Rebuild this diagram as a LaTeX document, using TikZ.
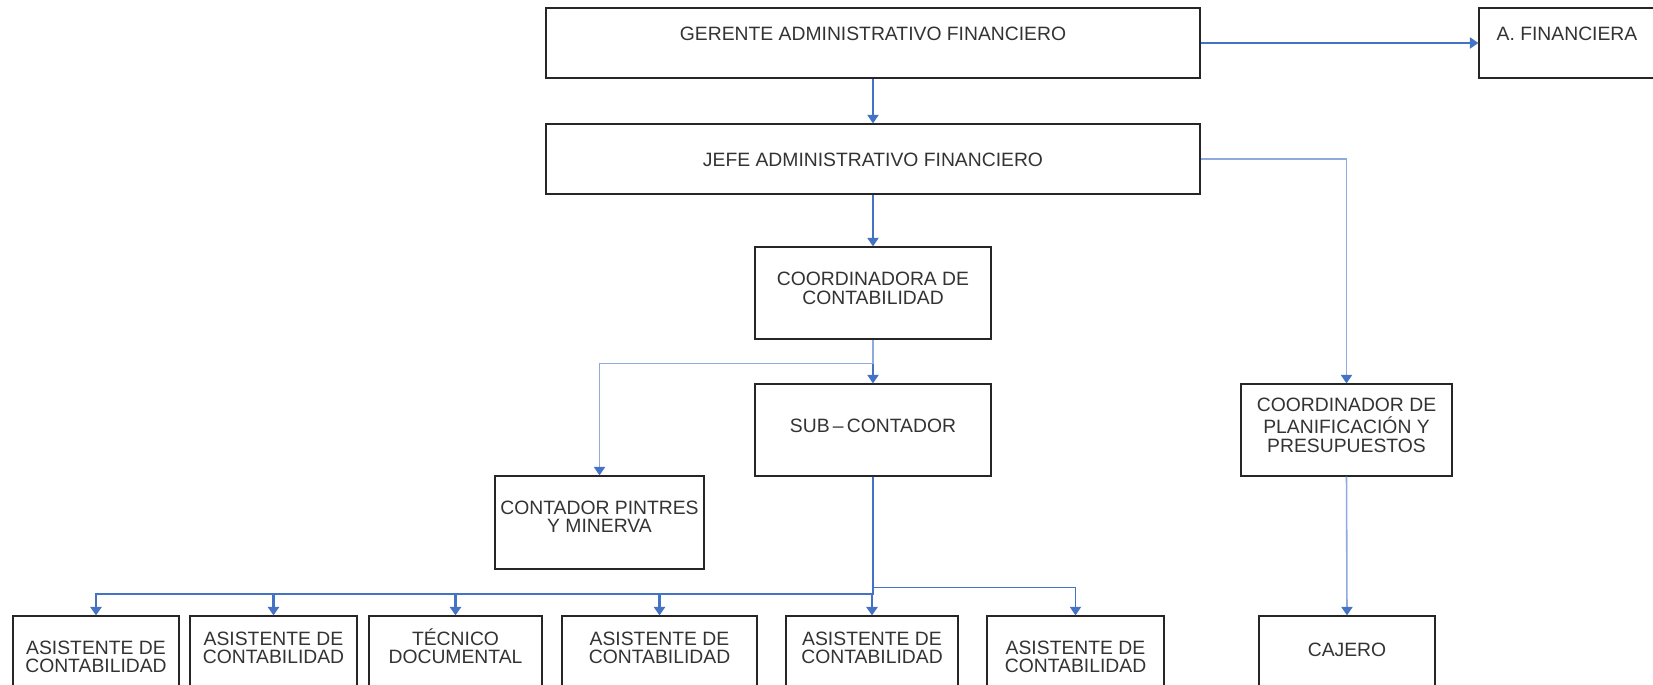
\documentclass[tikz,border=0pt]{standalone}
\usepackage{fontspec}
\setmainfont{Liberation Sans}
\usetikzlibrary{arrows.meta}
\definecolor{azul}{RGB}{68,114,196}
\definecolor{azulclaro}{RGB}{143,170,220}
\newcommand{\cargo}[1]{\begin{tabular}[t]{@{}c@{}}#1\end{tabular}}
\tikzset{
  puesto/.style={rectangle, draw=black!85, line width=0.7pt, inner sep=0pt,
                 text=black!80, font=\fontsize{11}{10.2}\selectfont},
  flecha/.style={-{Triangle[length=4.8pt,width=6.3pt]}, line width=0.9pt, draw=azul},
  flechaclara/.style={-{Triangle[length=4.8pt,width=6.3pt,color=azul]}, line width=0.9pt, draw=azulclaro},
}
\begin{document}
\begin{tikzpicture}[x=0.02cm, y=-0.02cm]
  \useasboundingbox (0,0) rectangle (1653,685);
  \clip (0,0) rectangle (1653,685);
  % direccion
  \node[puesto, minimum width=13.08cm, text height=0.66cm, text depth=0.74cm] (gerente) at (873,43) {\cargo{GERENTE ADMINISTRATIVO FINANCIERO}};
  \node[puesto, minimum width=3.52cm, text height=0.66cm, text depth=0.74cm] (afin) at (1567,43) {\cargo{A. FINANCIERA}};
  \node[puesto, minimum width=13.08cm, text height=0.86cm, text depth=0.54cm] (jefe) at (873,159) {\cargo{JEFE ADMINISTRATIVO FINANCIERO}};
  % contabilidad
  \node[puesto, minimum width=4.72cm, text height=0.78cm, text depth=1.06cm] (coordcont) at (873,293) {\cargo{COORDINADORA DE\\CONTABILIDAD}};
  \node[puesto, minimum width=4.72cm, text height=0.98cm, text depth=0.86cm] (subcont) at (873,430) {\cargo{SUB\,–\,CONTADOR}};
  \node[puesto, minimum width=4.18cm, text height=0.76cm, text depth=1.10cm] (pintres) at (599.5,522.5) {\cargo{CONTADOR PINTRES\\Y MINERVA}};
  % planificacion
  \node[puesto, minimum width=4.22cm, text height=0.54cm, text depth=1.30cm] (plan) at (1346.5,430) {\cargo{COORDINADOR DE\\PLANIFICACIÓN Y\\PRESUPUESTOS}};
  \node[puesto, minimum width=3.52cm, text height=0.80cm, text depth=1.04cm] (cajero) at (1347,662) {\cargo{CAJERO}};
  % fila inferior
  \node[puesto, minimum width=3.32cm, text height=0.76cm, text depth=1.08cm] (a1) at (96,662) {\cargo{ASISTENTE DE\\CONTABILIDAD}};
  \node[puesto, minimum width=3.34cm, text height=0.58cm, text depth=1.26cm] (a2) at (273.5,662) {\cargo{ASISTENTE DE\\CONTABILIDAD}};
  \node[puesto, minimum width=3.46cm, text height=0.58cm, text depth=1.26cm] (tec) at (455.5,662) {\cargo{TÉCNICO\\DOCUMENTAL}};
  \node[puesto, minimum width=3.90cm, text height=0.58cm, text depth=1.26cm] (a3) at (659.5,662) {\cargo{ASISTENTE DE\\CONTABILIDAD}};
  \node[puesto, minimum width=3.44cm, text height=0.58cm, text depth=1.26cm] (a4) at (872,662) {\cargo{ASISTENTE DE\\CONTABILIDAD}};
  \node[puesto, minimum width=3.54cm, text height=0.76cm, text depth=1.08cm] (a5) at (1075.5,662) {\cargo{ASISTENTE DE\\CONTABILIDAD}};

  \draw[flecha] (gerente.east) -- (afin.west);
  \draw[flecha] (gerente.south) -- (jefe.north);
  \draw[flecha] (jefe.south) -- (coordcont.north);
  \draw[flechaclara] (jefe.east) -| (plan.north);
  \draw[flecha] (coordcont.south) -- (subcont.north);
  \draw[flechaclara] (coordcont.south) -- ++(0,24) -| (pintres.north);
  \draw[flechaclara] (plan.south) -- (cajero.north);
  \foreach \n in {a1,a2,tec,a3,a4}
    \draw[flecha, line width=1.2pt] (subcont.south) -- ++(0,117) -| (\n.north);
  \draw[flecha, line width=0.7pt] (subcont.south) -- ++(0,111) -| (a5.north);
\end{tikzpicture}
\end{document}
